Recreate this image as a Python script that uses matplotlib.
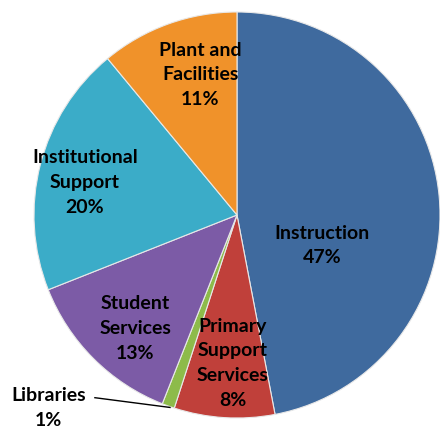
import matplotlib
matplotlib.use('Agg')
import matplotlib.pyplot as plt

categories = ['Instruction', 'Primary\nSupport\nServices', 'Libraries',
              'Student\nServices', 'Institutional\nSupport', 'Plant and\nFacilities']
shares = [47, 8, 1, 13, 20, 11]
colors = ['#3F6A9E', '#C0403A', '#8DBB4A', '#7C5BA6', '#3BACC8', '#F0922A']

# label placement (fraction of radius), tuned to the reference
label_pos = [(0.42, -0.15), (-0.02, -0.73), (-0.93, -0.95),
             (-0.50, -0.56), (-0.75, 0.16), (-0.18, 0.69)]

plt.rcParams['font.family'] = ['Lato', 'DejaVu Sans']

fig = plt.figure(figsize=(4.4, 4.32), dpi=100)
ax = fig.add_axes([0, 0, 1, 1])

wedges, _ = ax.pie(shares, colors=colors, startangle=90, counterclock=False,
                   radius=1.0, wedgeprops=dict(edgecolor='#e8e8e8', linewidth=0.8))

for w, name, val, (x, y) in zip(wedges, categories, shares, label_pos):
    ax.text(x, y, f'{name}\n{val}%', ha='center', va='center', fontsize=14,
            fontweight='bold', color='black', linespacing=1.55)

# leader line for the small slice
ax.plot([-0.70, -0.33], [-0.90, -0.948], color='black', lw=1)

ax.set_xlim(-237 / 203, (440 - 237) / 203)
ax.set_ylim(-(432 - 215) / 203, 215 / 203)
ax.set_aspect('equal')
ax.axis('off')

fig.savefig('out.png', dpi=100)
